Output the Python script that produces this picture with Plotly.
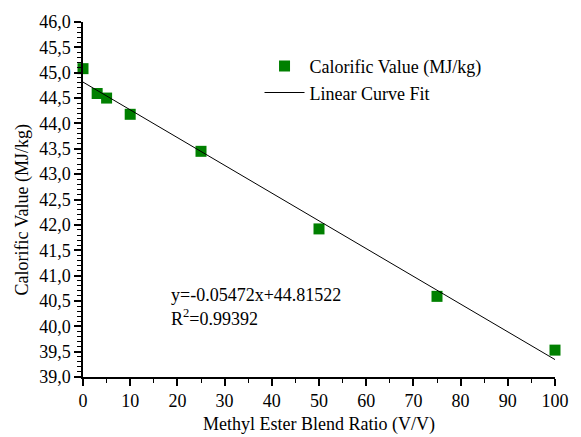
import plotly.graph_objects as go

blend_ratio = [0, 3, 5, 10, 25, 50, 75, 100]
calorific_value = [45.08, 44.59, 44.50, 44.18, 43.45, 41.92, 40.59, 39.53]
fit_slope = -0.05472
fit_intercept = 44.81522
fit_x = [0, 100]
fit_y = [fit_intercept + fit_slope * x for x in fit_x]
x_title = "Methyl Ester Blend Ratio (V/V)"
y_title = "Calorific Value (MJ/kg)"
eq_text = "y=-0.05472x+44.81522"
r2_text = "R<sup>2</sup>=0.99392"

FONT = "Liberation Serif"
FS = 18

fig = go.Figure()
fig.add_trace(go.Scatter(
    x=blend_ratio, y=calorific_value, mode="markers",
    name="Calorific Value (MJ/kg)",
    marker=dict(symbol="square", size=11, color="#008000"),
    cliponaxis=False,
))
fig.add_trace(go.Scatter(
    x=fit_x, y=fit_y, mode="lines", name="Linear Curve Fit",
    line=dict(color="black", width=1),
))

fig.add_annotation(x=0.183, y=0.23, xref="paper", yref="paper", xanchor="left", yanchor="middle",
                   text=eq_text, showarrow=False, font=dict(family=FONT, size=FS, color="black"))
fig.add_annotation(x=0.183, y=0.168, xref="paper", yref="paper", xanchor="left", yanchor="middle",
                   text=r2_text, showarrow=False, font=dict(family=FONT, size=FS, color="black"))
fig.add_annotation(x=0.5, y=-0.1345, xref="paper", yref="paper", xanchor="center", yanchor="middle",
                   text=x_title, showarrow=False, font=dict(family=FONT, size=FS, color="black"))
fig.add_annotation(x=-0.129, y=0.472, xref="paper", yref="paper", xanchor="center", yanchor="middle",
                   text=y_title, textangle=-90, showarrow=False,
                   font=dict(family=FONT, size=FS, color="black"))

fig.update_layout(
    width=581, height=437,
    margin=dict(l=83, r=15, t=20, b=60),
    paper_bgcolor="white", plot_bgcolor="white",
    separators=",.",
    font=dict(family=FONT, size=FS, color="black"),
    showlegend=True,
    legend=dict(x=0.374, y=0.927, xanchor="left", yanchor="top",
                bgcolor="rgba(0,0,0,0)", font=dict(family=FONT, size=FS),
                tracegroupgap=0, itemwidth=40),
    xaxis=dict(
        range=[0, 100], tickvals=list(range(0, 101, 10)),
        showline=True, linecolor="black", linewidth=1.5,
        ticks="outside", ticklen=7, tickwidth=1.5, tickcolor="black",
        minor=dict(ticks="outside", ticklen=4, tickwidth=1.2, tickcolor="black", dtick=5),
        showgrid=False, zeroline=False,
        tickfont=dict(family=FONT, size=FS),
    ),
    yaxis=dict(
        range=[39, 46], dtick=0.5, tick0=39, tickformat=".1f",
        showline=True, linecolor="black", linewidth=1.5,
        ticks="outside", ticklen=7, tickwidth=1.5, tickcolor="black",
        minor=dict(ticks="outside", ticklen=4, tickwidth=1.2, tickcolor="black", dtick=0.1),
        showgrid=False, zeroline=False,
        tickfont=dict(family=FONT, size=FS),
    ),
)

fig.write_html("out.html")
